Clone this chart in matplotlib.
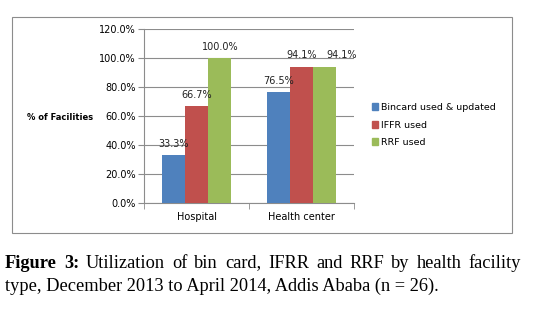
import matplotlib
matplotlib.use("Agg")
import matplotlib.pyplot as plt
from matplotlib.patches import Rectangle, Patch
import numpy as np

categories = ["Hospital", "Health center"]
series_names = ["Bincard used & updated", "IFFR used", "RRF used"]
bincard = [33.3, 76.5]
iffr = [66.7, 94.1]
rrf = [100.0, 94.1]
yticks = [0, 20, 40, 60, 80, 100, 120]
colors = ["#4F81BD", "#C0504D", "#9BBB59"]

fig = plt.figure(figsize=(5.4, 3.12), dpi=100)
fig.patch.set_facecolor("white")

# outer chart frame
fig.patches.append(Rectangle((12/540, 79/312), 500/540, 216/312, transform=fig.transFigure,
                             fill=False, edgecolor="#8c8c8c", linewidth=0.8))

ax = fig.add_axes([144/540, 108.7/312, 210/540, 174.3/312])
x = np.arange(len(categories))
w = 0.222
cfont = "DejaVu Sans"
for i, (vals, name) in enumerate(zip([bincard, iffr, rrf], series_names)):
    pos = x + (i - 1) * w
    ax.bar(pos, vals, width=w, color=colors[i], label=name, zorder=3)
    for j, (p, v) in enumerate(zip(pos, vals)):
        dx = 12 if (i == 2 and j == 1) else 0
        ax.annotate(f"{v:.1f}%", (p, v), xytext=(dx, 4.5), textcoords="offset points",
                    ha="center", va="bottom", fontsize=7, family=cfont,
                    color="#222222", zorder=4)

ax.set_xlim(-0.5, 1.5)
ax.set_ylim(0, 120)
ax.set_yticks(yticks)
ax.set_yticklabels([f"{t:.1f}%" for t in yticks], fontsize=7, family=cfont)
ax.set_xticks(x)
ax.set_xticklabels(categories, fontsize=7, family=cfont)
ax.tick_params(axis="x", length=0, pad=6)
ax.tick_params(axis="y", length=4, color="#8c8c8c", pad=2)
ax.set_xticks([-0.5, 0.5, 1.5], minor=True)
ax.tick_params(axis="x", which="minor", length=4, color="#8c8c8c")
ax.grid(axis="y", color="#8c8c8c", linewidth=0.8, zorder=0)
for s in ["top", "right"]:
    ax.spines[s].set_visible(False)
for s in ["left", "bottom"]:
    ax.spines[s].set_color("#8c8c8c")
    ax.spines[s].set_linewidth(0.8)

fig.text(60/540, 1 - 117/312, "% of Facilities", ha="center", va="center",
         fontsize=6, family=cfont, fontweight="bold")

handles = [Patch(color=c) for c in colors]
fig.legend(handles, series_names, loc="center left", bbox_to_anchor=(363/540, 1 - 125/312),
           frameon=False, handlelength=0.7, handleheight=0.7,
           handletextpad=0.3, labelspacing=0.9, prop={"family": cfont, "size": 6.8})

# caption with justification of first line
renderer = fig.canvas.get_renderer()
serif = "Liberation Serif"
fs = 13.2
line1 = [("Figure", "bold"), ("3:", "bold"), ("Utilization", "normal"), ("of", "normal"),
         ("bin", "normal"), ("card,", "normal"), ("IFRR", "normal"), ("and", "normal"),
         ("RRF", "normal"), ("by", "normal"), ("health", "normal"), ("facility", "normal")]
left_px, right_px = 5, 521
y1 = 1 - 263/312
texts = []
total = 0
for word, wt in line1:
    t = fig.text(0, y1, word, fontsize=fs, family=serif, fontweight=wt, va="center", ha="left")
    bb = t.get_window_extent(renderer)
    texts.append((t, bb.width))
    total += bb.width
gap = (right_px - left_px - total) / (len(line1) - 1)
xpos = left_px
for t, wd in texts:
    t.set_x(xpos / 540)
    xpos += wd + gap

fig.text(left_px/540, 1 - 286/312, "type, December 2013 to April 2014, Addis Ababa (n = 26).",
         fontsize=fs, family=serif, va="center", ha="left")

fig.savefig("out.png", dpi=100)
